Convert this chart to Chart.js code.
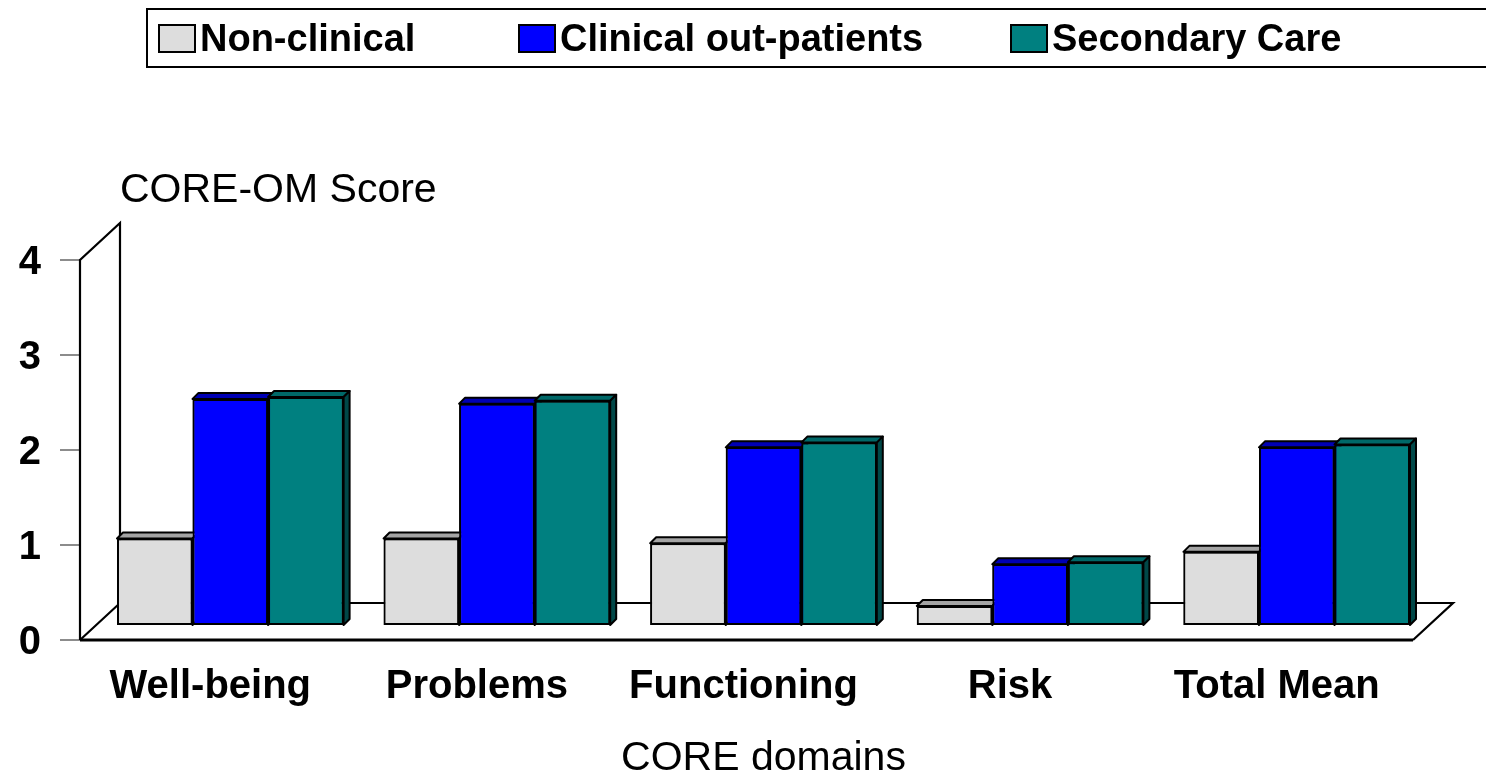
<!DOCTYPE html>
<html>
<head>
<meta charset="utf-8">
<script src="https://cdn.jsdelivr.net/npm/chart.js@4"></script>
<style>
  body { margin: 0; background: #fff; width: 1486px; height: 776px; overflow: hidden; position: relative;
         font-family: "Liberation Sans", Arial, sans-serif; }
  #chartBox { position: absolute; left: 0; top: 0; width: 1486px; height: 776px; }
  #legend { position: absolute; left: 146px; top: 8px; width: 1400px; height: 56px; border: 2px solid #000; }
  .item { position: absolute; top: 0; height: 56px; display: flex; align-items: center;
          font-weight: bold; font-size: 38px; color: #000; }
  .sw { width: 34px; height: 25px; border: 2px solid #000; margin-right: 4px; }
</style>
</head>
<body>
<div id="chartBox"><canvas id="coreChart" width="1486" height="776"></canvas></div>
<div id="legend"></div>
<script>
// CORE-OM mean scores by domain
const categories = ["Well-being", "Problems", "Functioning", "Risk", "Total Mean"];
const nonClinical = [0.91, 0.91, 0.86, 0.20, 0.77];
const clinicalOut = [2.38, 2.33, 1.87, 0.64, 1.87];
const secondaryCare = [2.40, 2.36, 1.92, 0.66, 1.90];
const seriesNames = ["Non-clinical", "Clinical out-patients", "Secondary Care"];
const yTicks = [0, 1, 2, 3, 4];

const fronts = ["#dddddd", "#0000ff", "#008080"];
const tops = ["#a4a4a4", "#0000b4", "#006868"];
const sides = ["#8a8a8a", "#000090", "#004848"];

// offsets of the front and back planes from the plane the bars stand in
const front = { dx: -17, dy: 15 };
const back = { dx: 23, dy: -22 };
const depth = 6;

// html legend
const legendPos = [10, 370, 862];
seriesNames.forEach((name, i) => {
  const el = document.createElement("div");
  el.className = "item";
  el.style.left = legendPos[i] + "px";
  el.innerHTML = `<span class="sw" style="background:${fronts[i]}"></span>${name}`;
  document.getElementById("legend").appendChild(el);
});

function poly(ctx, pts, fill, close) {
  ctx.beginPath();
  pts.forEach((p, i) => i ? ctx.lineTo(p[0], p[1]) : ctx.moveTo(p[0], p[1]));
  if (close) ctx.closePath();
  if (fill) { ctx.fillStyle = fill; ctx.fill(); }
  ctx.stroke();
}

const threeD = {
  id: "threeD",
  beforeDatasetsDraw(chart) {
    const { ctx, chartArea: a, scales: { y } } = chart;
    const y0 = y.getPixelForValue(0);
    const yMax = y.getPixelForValue(yTicks[yTicks.length - 1]);
    ctx.save();
    // tick marks on the front plane
    ctx.strokeStyle = "#666";
    ctx.lineWidth = 1.5;
    yTicks.forEach(v => {
      const p = y.getPixelForValue(v) + front.dy;
      poly(ctx, [[a.left + front.dx - 20, p], [a.left + front.dx, p]]);
    });
    ctx.strokeStyle = "#000";
    ctx.lineWidth = 2.2;
    // side wall
    poly(ctx, [[a.left + front.dx, y0 + front.dy], [a.left + front.dx, yMax + front.dy],
               [a.left + back.dx, yMax + back.dy], [a.left + back.dx, y0 + back.dy]], "#fff");
    // floor
    poly(ctx, [[a.left + front.dx, y0 + front.dy], [a.left + back.dx, y0 + back.dy],
               [a.right + back.dx, y0 + back.dy], [a.right + front.dx, y0 + front.dy]], "#fff");
    ctx.lineWidth = 3;
    poly(ctx, [[a.left + front.dx, y0 + front.dy], [a.right + front.dx, y0 + front.dy]]);
    ctx.restore();
  },
  afterDatasetsDraw(chart) {
    const { ctx } = chart;
    ctx.save();
    categories.forEach((c, i) => {
      chart.data.datasets.forEach((ds, d) => {
        const bar = chart.getDatasetMeta(d).data[i];
        const { x, y, base, width } = bar.getProps(["x", "y", "base", "width"], true);
        const l = x - width / 2, r = x + width / 2;
        ctx.save();
        ctx.strokeStyle = "#000";
        ctx.lineWidth = 2;
        ctx.lineJoin = "round";
        poly(ctx, [[l, y], [l + depth, y - depth], [r + depth, y - depth], [r, y]], tops[d], true);
        poly(ctx, [[r, y], [r + depth, y - depth], [r + depth, base - depth], [r, base]], sides[d], true);
        ctx.restore();
        bar.draw(ctx);
      });
    });
    ctx.restore();
  },
  afterDraw(chart) {
    const { ctx, chartArea: a, scales: { y } } = chart;
    ctx.save();
    ctx.fillStyle = "#000";
    ctx.font = '41px "Liberation Sans", Arial, sans-serif';
    ctx.textAlign = "left";
    ctx.textBaseline = "alphabetic";
    ctx.fillText("CORE-OM Score", a.left + back.dx, y.getPixelForValue(4) + back.dy - 21);
    ctx.restore();
  }
};

new Chart(document.getElementById("coreChart"), {
  type: "bar",
  data: {
    labels: categories,
    datasets: [nonClinical, clinicalOut, secondaryCare].map((vals, i) => ({
      label: seriesNames[i],
      data: vals,
      backgroundColor: fronts[i],
      borderColor: "#000",
      borderWidth: 2,
      borderSkipped: false,
      categoryPercentage: 0.85,
      barPercentage: 1
    }))
  },
  options: {
    responsive: false,
    animation: false,
    layout: { padding: { top: 245, right: 56, left: 0, bottom: 0 } },
    plugins: { legend: { display: false }, tooltip: { enabled: false } },
    scales: {
      x: {
        grid: { display: false, drawTicks: false },
        border: { display: false },
        ticks: {
          color: "#000",
          font: { family: "Liberation Sans", size: 40, weight: "bold" },
          padding: 38,
          labelOffset: -20,
          maxRotation: 0
        },
        title: {
          display: true,
          text: "CORE domains",
          color: "#000",
          font: { family: "Liberation Sans", size: 41 },
          padding: { top: 0, bottom: -7 }
        },
        afterFit: s => { s.height = 151; }
      },
      y: {
        min: 0,
        max: 4,
        grid: { display: false, drawTicks: false },
        border: { display: false },
        ticks: {
          stepSize: 1,
          color: "#000",
          font: { family: "Liberation Sans", size: 40, weight: "bold" },
          padding: 56,
          labelOffset: 18
        },
        afterFit: s => { s.width = 97; }
      }
    }
  },
  plugins: [threeD]
});
</script>
</body>
</html>
